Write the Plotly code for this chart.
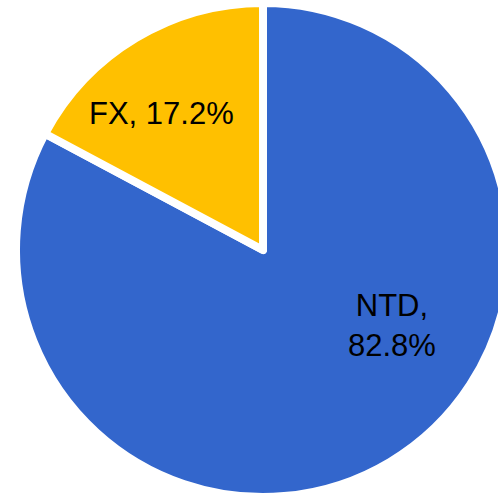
import plotly.graph_objects as go

labels = ["NTD", "FX"]
values = [82.8, 17.2]
colors = ["#3366CC", "#FFC000"]
label_texts = ["NTD,<br>82.8%", "FX, 17.2%"]

fig = go.Figure(go.Pie(
    labels=labels,
    values=values,
    sort=False,
    direction="clockwise",
    rotation=0,
    marker=dict(colors=colors, line=dict(color="white", width=8)),
    textinfo="none",
    hoverinfo="label+percent",
    showlegend=False,
))

# label positions (paper coordinates)
label_pos = [(0.7611, 0.3472), (0.2945, 0.7773)]
for txt, (x, y) in zip(label_texts, label_pos):
    fig.add_annotation(
        x=x, y=y, xref="paper", yref="paper",
        text=txt, showarrow=False,
        xanchor="center", yanchor="middle",
        font=dict(family="Liberation Sans, Arial, sans-serif", size=31, color="black"),
    )

fig.update_layout(
    width=520,
    height=500,
    margin=dict(l=16, r=10, t=3, b=3),
    paper_bgcolor="white",
    plot_bgcolor="white",
    showlegend=False,
)

fig.write_html(
    "out.html",
    config={"displayModeBar": False},
    post_script="document.body.style.margin='0';document.body.style.overflow='hidden';document.documentElement.style.overflow='hidden';",
)
